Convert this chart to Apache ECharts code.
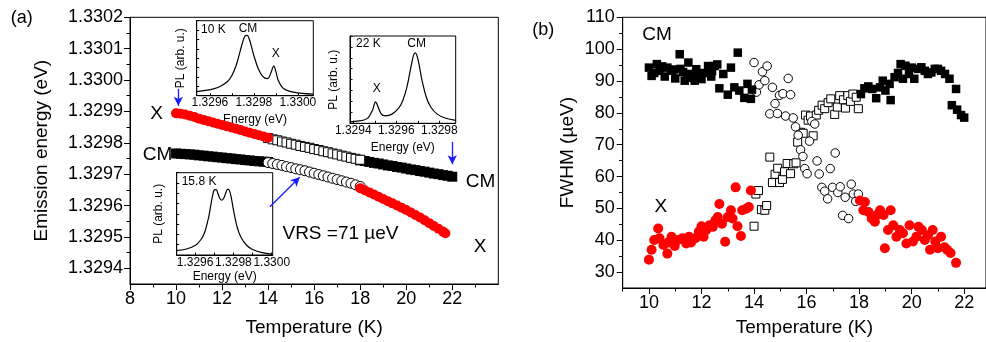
<!DOCTYPE html>
<html>
<head>
<meta charset="utf-8">
<script src="https://cdn.jsdelivr.net/npm/echarts@6/dist/echarts.min.js"></script>
<style>
  html, body { margin: 0; padding: 0; background: #fff; }
  #chart { width: 986px; height: 342px; }
</style>
</head>
<body>
<div id="chart"></div>
<script>
// ---- panel (a): emission energy (eV) vs temperature (K) ----
const tA1 = [10.0, 10.2, 10.4, 10.6, 10.8, 11.0, 11.2, 11.4, 11.6, 11.8, 12.0, 12.2, 12.4, 12.6, 12.8, 13.0, 13.2, 13.4, 13.6, 13.8, 14.0];
const tA2 = [14.0, 14.2, 14.4, 14.6, 14.8, 15.0, 15.2, 15.4, 15.6, 15.8, 16.0, 16.2, 16.4, 16.6, 16.8, 17.0, 17.2, 17.4, 17.6, 17.8, 18.0];
const tA3 = [18.0, 18.2, 18.4, 18.6, 18.8, 19.0, 19.2, 19.4, 19.6, 19.8, 20.0, 20.2, 20.4, 20.6, 20.8, 21.0, 21.2, 21.4, 21.6, 21.8, 22.0];
const tA4 = [18.0, 18.2, 18.4, 18.6, 18.8, 19.0, 19.2, 19.4, 19.6, 19.8, 20.0, 20.2, 20.4, 20.6, 20.8, 21.0, 21.2, 21.4, 21.6, 21.7];

const eXUp = [1.329894, 1.329893, 1.329890, 1.329886, 1.329882, 1.329877, 1.329873, 1.329869, 1.329865, 1.329861, 1.329857, 1.329853, 1.329849, 1.329845, 1.329841, 1.329836, 1.329832, 1.329828, 1.329824, 1.329820, 1.329816];
const eCmLo = [1.329766, 1.329765, 1.329764, 1.329763, 1.329762, 1.329760, 1.329759, 1.329757, 1.329756, 1.329754, 1.329753, 1.329751, 1.329750, 1.329748, 1.329747, 1.329745, 1.329744, 1.329742, 1.329741, 1.329740, 1.329739];
const eSqUp = [1.329815, 1.329811, 1.329808, 1.329804, 1.329801, 1.329797, 1.329794, 1.329790, 1.329787, 1.329784, 1.329780, 1.329777, 1.329773, 1.329770, 1.329766, 1.329763, 1.329759, 1.329756, 1.329752, 1.329749, 1.329746];
const eCiLo = [1.329737, 1.329734, 1.329731, 1.329728, 1.329724, 1.329721, 1.329717, 1.329714, 1.329711, 1.329707, 1.329703, 1.329699, 1.329695, 1.329691, 1.329687, 1.329683, 1.329679, 1.329675, 1.329671, 1.329666, 1.329661];
const eCmUp = [1.329744, 1.329742, 1.329739, 1.329736, 1.329734, 1.329731, 1.329728, 1.329726, 1.329723, 1.329721, 1.329718, 1.329715, 1.329713, 1.329710, 1.329708, 1.329705, 1.329702, 1.329700, 1.329697, 1.329695, 1.329692];
const eXLo = [1.329655, 1.329649, 1.329642, 1.329635, 1.329628, 1.329621, 1.329614, 1.329607, 1.329600, 1.329593, 1.329586, 1.329578, 1.329570, 1.329562, 1.329553, 1.329544, 1.329535, 1.329526, 1.329517, 1.329512];

const aTempLabels = [8, 10, 12, 14, 16, 18, 20, 22];
const aTempMinor = [9, 11, 13, 15, 17, 19, 21, 23];
const aEnergyLabels = [1.3294, 1.3295, 1.3296, 1.3297, 1.3298, 1.3299, 1.3300, 1.3301, 1.3302];
const aEnergyMinor = [1.32945, 1.32955, 1.32965, 1.32975, 1.32985, 1.32995, 1.33005, 1.33015];

// blue arrows [from, to] in (T, E)
const arrowsA = [
  [[10.1, 1.329972], [10.1, 1.329918]],
  [[22.0, 1.329803], [22.0, 1.329732]],
  [[14.08, 1.329596], [15.37, 1.329690]]
];

// ---- insets: PL spectra ----
const in10E = [1.32954, 1.32958, 1.32962, 1.32965, 1.32968, 1.32970, 1.32972, 1.32974, 1.32975, 1.32976, 1.32977, 1.32978, 1.32979, 1.32980, 1.32982, 1.32984, 1.32986, 1.32987, 1.32988, 1.32989, 1.32990, 1.32991, 1.32993, 1.32995, 1.32998, 1.33002, 1.33007];
const in10I = [5.5, 7, 9.5, 13, 19, 27, 41, 62, 72.5, 79.7, 80.5, 74.5, 64.4, 53.3, 35.9, 25.8, 22.7, 25.3, 32.6, 39.9, 32.1, 20.9, 10.8, 7.1, 4.7, 3.1, 2.1];
const in22E = [1.329385, 1.32942, 1.32945, 1.32947, 1.32949, 1.329495, 1.329503, 1.32951, 1.32953, 1.32955, 1.32958, 1.32961, 1.32963, 1.32965, 1.32967, 1.32968, 1.329688, 1.32970, 1.32972, 1.32974, 1.32976, 1.32979, 1.32983, 1.329876];
const in22I = [1.7, 2.5, 3.8, 6.5, 15.2, 19.4, 24.5, 22.2, 10.7, 8.5, 10.5, 17.0, 25.9, 42.1, 66.9, 77.8, 80.7, 74.1, 48.7, 29.6, 18.7, 10.5, 5.8, 3.4];
const in158E = [1.32950, 1.32955, 1.32960, 1.32963, 1.32965, 1.32967, 1.32968, 1.32969, 1.32970, 1.32971, 1.32972, 1.32973, 1.32974, 1.32975, 1.32976, 1.32977, 1.32978, 1.32979, 1.32980, 1.32982, 1.32984, 1.32987, 1.32990, 1.32995, 1.33000];
const in158I = [5.3, 7, 11.5, 18.5, 27.7, 45.2, 57.7, 70.6, 79.0, 79.4, 74.0, 68.4, 66.6, 69.3, 75.2, 80.0, 77.9, 68.2, 55.1, 33.4, 21.2, 11.5, 6.7, 2.8, 1.0];
const in10Labels = [1.3296, 1.3298, 1.3300];
const in22Labels = [1.3294, 1.3296, 1.3298];
const in158Labels = [1.3296, 1.3298, 1.3300];

// ---- panel (b): FWHM (µeV) vs temperature (K) ----
const bCM = [
  [10.0, 94.2], [10.1, 91.6], [10.2, 92.5], [10.3, 95.3], [10.4, 93.2], [10.5, 94.6], [10.6, 91.4], [10.7, 94.2],
  [10.85, 93.2], [10.95, 93.6], [11.0, 90.8], [11.17, 98.4], [11.2, 93.8], [11.3, 92.8], [11.36, 90.1], [11.45, 91.0],
  [11.5, 95.8], [11.6, 92.2], [11.74, 90.1], [11.8, 93.7], [11.9, 91.6], [12.0, 90.6], [12.1, 92.5], [12.25, 94.7],
  [12.37, 91.4], [12.4, 93.1], [12.5, 94.7], [12.6, 95.2], [12.68, 87.7], [12.83, 92.2], [13.0, 85.7], [13.12, 94.2],
  [13.25, 88.0], [13.38, 98.9], [13.44, 87.0], [13.63, 84.7], [13.75, 89.1], [13.88, 84.4], [13.92, 87.3],
  [18.07, 85.9], [18.2, 87.7], [18.35, 88.3], [18.5, 87.5], [18.65, 84.6], [18.8, 88.0], [18.9, 90.1], [19.0, 87.0],
  [19.16, 89.1], [19.2, 84.0], [19.35, 91.2], [19.48, 92.5], [19.58, 95.3], [19.67, 90.7], [19.76, 94.8], [19.9, 92.2],
  [20.0, 94.2], [20.1, 90.7], [20.25, 93.8], [20.37, 94.3], [20.5, 93.2], [20.62, 92.2], [20.75, 92.7], [20.88, 93.8],
  [21.0, 93.8], [21.12, 93.2], [21.27, 92.2], [21.44, 90.7], [21.53, 82.4], [21.69, 87.5], [21.73, 81.0], [21.88, 79.3], [22.0, 78.5]
];
const bX = [
  [10.0, 33.9], [10.1, 37.0], [10.2, 40.1], [10.35, 43.7], [10.4, 40.6], [10.55, 38.5], [10.7, 35.8], [10.73, 39.3],
  [10.86, 41.1], [10.98, 38.2], [11.1, 40.1], [11.27, 40.6], [11.42, 39.0], [11.52, 41.1], [11.6, 39.3], [11.77, 40.6],
  [11.9, 42.7], [12.0, 44.4], [12.08, 41.1], [12.18, 43.2], [12.3, 44.7], [12.43, 44.2], [12.53, 46.3], [12.62, 47.3],
  [12.68, 51.4], [12.78, 45.2], [12.9, 39.5], [13.0, 47.3], [13.12, 49.4], [13.18, 46.8], [13.3, 56.6], [13.37, 44.4],
  [13.5, 41.3], [13.55, 49.4], [13.7, 49.9], [13.8, 50.4], [13.88, 55.6],
  [18.03, 52.5], [18.16, 49.4], [18.22, 52.0], [18.35, 48.9], [18.48, 46.8], [18.6, 45.8], [18.67, 47.9], [18.8, 49.4],
  [18.93, 47.9], [18.98, 37.5], [19.1, 43.2], [19.2, 49.4], [19.3, 44.7], [19.42, 41.1], [19.55, 43.2], [19.67, 42.2],
  [19.8, 39.0], [19.92, 44.7], [20.05, 39.6], [20.18, 41.1], [20.26, 44.2], [20.39, 43.2], [20.5, 40.1], [20.62, 41.6],
  [20.7, 37.0], [20.8, 43.2], [20.9, 39.6], [21.0, 37.5], [21.12, 41.1], [21.25, 37.8], [21.35, 37.0], [21.48, 36.0], [21.69, 32.9]
];
const bOpenSq = [
  [14.0, 44.4], [14.07, 54.5], [14.17, 55.6], [14.28, 49.6], [14.41, 49.4], [14.48, 50.9], [14.6, 66.1], [14.7, 58.1],
  [14.8, 60.7], [14.9, 62.6], [14.97, 58.1], [15.08, 59.1], [15.16, 61.5], [15.26, 64.1], [15.39, 60.9], [15.51, 64.0],
  [15.6, 64.3], [15.66, 70.8], [15.77, 73.9], [15.87, 73.6], [15.96, 79.3], [16.06, 77.7], [16.15, 79.0], [16.25, 72.8],
  [16.37, 79.3], [16.46, 80.8], [16.59, 82.4], [16.69, 81.3], [16.82, 83.2], [16.92, 84.4], [17.07, 79.5], [17.17, 81.8],
  [17.26, 85.4], [17.4, 84.1], [17.48, 81.5], [17.57, 85.4], [17.67, 83.6], [17.76, 85.9], [17.89, 84.9], [17.97, 81.3]
];
const bOpenCi = [
  [14.0, 95.8], [14.09, 86.5], [14.19, 88.8], [14.32, 92.9], [14.41, 90.1], [14.5, 94.7], [14.6, 79.7], [14.7, 88.0],
  [14.8, 82.9], [14.89, 79.8], [14.97, 85.5], [15.1, 86.0], [15.2, 79.0], [15.3, 90.8], [15.39, 85.7], [15.49, 78.4],
  [15.58, 75.6], [15.68, 73.0], [15.77, 68.4], [15.86, 66.3], [15.93, 62.5], [16.02, 60.9], [16.11, 71.1], [16.2, 77.3],
  [16.31, 76.5], [16.4, 64.9], [16.48, 60.8], [16.58, 56.6], [16.69, 55.4], [16.8, 53.0], [16.9, 62.5], [16.99, 56.6],
  [17.09, 67.4], [17.19, 55.0], [17.28, 56.8], [17.37, 47.8], [17.47, 53.5], [17.6, 46.8], [17.7, 57.6], [17.78, 54.5],
  [17.87, 52.2], [17.97, 54.5]
];
const bTempLabels = [10, 12, 14, 16, 18, 20, 22];
const bTempMinor = [9, 11, 13, 15, 17, 19, 21];
const bFwhmLabels = [30, 40, 50, 60, 70, 80, 90, 100, 110];
const bFwhmMinor = [35, 45, 55, 65, 75, 85, 95, 105];

const FONT = "'Liberation Sans', Arial, Helvetica, sans-serif";
const zip = (xs, ys) => xs.map((x, i) => [x, ys[i]]);

function axis(o) {
  return {
    type: 'value', gridIndex: o.grid, min: o.min, max: o.max, position: o.pos,
    axisLine: { show: o.line !== false, onZero: false, lineStyle: { color: '#000', width: 1 } },
    axisTick: { show: true, inside: !!o.inside, length: o.len, customValues: o.ticks, lineStyle: { color: '#000', width: 1 } },
    axisLabel: o.labels ? {
      show: true, customValues: o.labels, formatter: o.fmt, fontSize: o.fs, color: '#000',
      fontFamily: FONT, margin: o.margin, hideOverlap: false
    } : { show: false },
    splitLine: { show: false },
    name: o.name || '', nameLocation: 'middle', nameGap: o.nameGap,
    nameTextStyle: { fontSize: o.nfs, color: '#000', fontFamily: FONT }
  };
}

const fmt4 = (v) => v.toFixed(4);
const fmt0 = (v) => String(Math.round(v));

const chart = echarts.init(document.getElementById('chart'), null, { renderer: 'canvas' });

const grids = [
  { left: 130, top: 17.3, width: 368.3, height: 270.7, show: true, borderColor: '#000', borderWidth: 1 },
  { left: 622.7, top: 17.3, width: 366, height: 275, show: true, borderColor: '#000', borderWidth: 1 },
  { left: 196.7, top: 20.7, width: 116.6, height: 75, show: true, borderColor: '#000', borderWidth: 1, backgroundColor: '#fff' },
  { left: 350, top: 36, width: 105.7, height: 87.3, show: true, borderColor: '#000', borderWidth: 1, backgroundColor: '#fff' },
  { left: 176.7, top: 172.7, width: 96, height: 82.3, show: true, borderColor: '#000', borderWidth: 1, backgroundColor: '#fff' }
];

const xAxes = [
  axis({ grid: 0, min: 8, max: 24, pos: 'bottom', ticks: aTempLabels, len: 6, labels: aTempLabels, fmt: fmt0, fs: 18, margin: 6,
    name: 'Temperature (K)', nameGap: 34, nfs: 19 }),
  axis({ grid: 0, min: 8, max: 24, pos: 'bottom', line: false, ticks: aTempMinor, len: 3.5 }),
  axis({ grid: 1, min: 9, max: 22.83, pos: 'bottom', ticks: bTempLabels, len: 6, labels: bTempLabels, fmt: fmt0, fs: 18, margin: 6,
    name: 'Temperature (K)', nameGap: 30, nfs: 19 }),
  axis({ grid: 1, min: 9, max: 22.83, pos: 'bottom', line: false, ticks: bTempMinor, len: 3.5 }),
  axis({ grid: 2, min: 1.32954, max: 1.33007, pos: 'bottom', inside: true, ticks: [1.3296, 1.3297, 1.3298, 1.3299, 1.3300], len: 2.5,
    labels: in10Labels, fmt: fmt4, fs: 12, margin: 1, name: 'Energy (eV)', nameGap: 18, nfs: 12 }),
  axis({ grid: 3, min: 1.329385, max: 1.329876, pos: 'bottom', inside: true, ticks: [1.3294, 1.3295, 1.3296, 1.3297, 1.3298], len: 2.5,
    labels: in22Labels, fmt: fmt4, fs: 12, margin: 1.5, name: 'Energy (eV)', nameGap: 18, nfs: 12 }),
  axis({ grid: 4, min: 1.329504, max: 1.330005, pos: 'bottom', inside: true, ticks: [1.3296, 1.3297, 1.3298, 1.3299, 1.3300], len: 2.5,
    labels: in158Labels, fmt: fmt4, fs: 12, margin: 1.5, name: 'Energy (eV)', nameGap: 15.5, nfs: 12 })
];

const inTicks = [0, 12.5, 25, 37.5, 50, 62.5, 75, 87.5, 100];
const yAxes = [
  axis({ grid: 0, min: 1.32935, max: 1.3302, pos: 'left', ticks: aEnergyLabels, len: 6, labels: aEnergyLabels, fmt: fmt4, fs: 18, margin: 7,
    name: 'Emission energy (eV)', nameGap: 79, nfs: 19 }),
  axis({ grid: 0, min: 1.32935, max: 1.3302, pos: 'left', line: false, ticks: aEnergyMinor, len: 3.5 }),
  axis({ grid: 1, min: 25, max: 110, pos: 'left', ticks: bFwhmLabels, len: 6, labels: bFwhmLabels, fmt: fmt0, fs: 18, margin: 8,
    name: 'FWHM (µeV)', nameGap: 45, nfs: 19 }),
  axis({ grid: 1, min: 25, max: 110, pos: 'left', line: false, ticks: bFwhmMinor, len: 3.5 }),
  axis({ grid: 2, min: 0, max: 100, pos: 'left', inside: true, ticks: inTicks, len: 2.5, name: 'PL (arb. u.)', nameGap: 10, nfs: 12 }),
  axis({ grid: 3, min: 0, max: 100, pos: 'left', inside: true, ticks: inTicks, len: 2.5, name: 'PL (arb. u.)', nameGap: 10, nfs: 12 }),
  axis({ grid: 4, min: 0, max: 100, pos: 'left', inside: true, ticks: inTicks, len: 2.5, name: 'PL (arb. u.)', nameGap: 12, nfs: 12 })
];

const RED = '#f00';
const filled = (color) => ({ color: color, opacity: 1 });
const hollow = { color: '#fff', borderColor: '#000', borderWidth: 1, opacity: 1 };

function scatter(xi, data, symbol, size, style, z) {
  return { type: 'scatter', xAxisIndex: xi, yAxisIndex: xi, data: data, symbol: symbol, symbolSize: size,
    itemStyle: style, z: z || 2, silent: true };
}
function spectrum(idx, es, is) {
  return { type: 'line', xAxisIndex: idx, yAxisIndex: idx, data: zip(es, is), showSymbol: false, smooth: 0.35,
    lineStyle: { color: '#000', width: 1.2 }, silent: true, z: 5 };
}

const series = [
  scatter(0, zip(tA1, eCmLo), 'rect', 10, filled('#000')),
  scatter(0, zip(tA2, eCiLo), 'circle', 10, hollow),
  scatter(0, zip(tA4, eXLo), 'circle', 10, filled(RED)),
  scatter(0, zip(tA3, eCmUp), 'rect', 10, filled('#000')),
  scatter(0, zip(tA2, eSqUp), 'rect', 9, hollow),
  Object.assign(scatter(0, zip(tA1, eXUp), 'circle', 10, filled(RED)), {
    markLine: {
      silent: true, symbol: ['none', 'arrow'], symbolSize: [7, 9], animation: false,
      lineStyle: { color: '#1a1aff', width: 1.3, type: 'solid' }, label: { show: false },
      data: arrowsA.map((a) => [{ coord: a[0] }, { coord: a[1] }])
    }
  }),
  scatter(2, bOpenSq, 'rect', 8, hollow),
  scatter(2, bOpenCi, 'circle', 8.5, hollow),
  scatter(2, bCM, 'rect', 8.5, filled('#000')),
  scatter(2, bX, 'circle', 10, filled(RED)),
  spectrum(4, in10E, in10I),
  spectrum(5, in22E, in22I),
  spectrum(6, in158E, in158I)
];

function label(text, x, y, size, align) {
  return { type: 'text', x: x, y: y, silent: true, z: 100,
    style: { text: text, fill: '#000', font: size + 'px ' + FONT, align: align || 'center', verticalAlign: 'middle' } };
}

const graphics = [
  label('(a)', 21.7, 18, 18),
  label('X', 156.7, 113.5, 19),
  label('CM', 157.5, 155, 19),
  label('CM', 480.5, 181.7, 19),
  label('X', 480, 246.7, 19),
  label('VRS =71 µeV', 340.5, 234, 19),
  label('10 K', 201, 29.3, 12, 'left'),
  label('CM', 248, 29, 12),
  label('X', 275.7, 53.3, 12),
  label('22 K', 356, 44, 12, 'left'),
  label('CM', 416.7, 44, 12),
  label('X', 376.7, 88.8, 12),
  label('15.8 K', 181.7, 181.5, 12, 'left'),
  label('(b)', 543.3, 30, 18),
  label('CM', 657, 34.7, 19),
  label('X', 660.8, 206.7, 19)
];

chart.setOption({
  animation: false,
  backgroundColor: '#fff',
  textStyle: { fontFamily: FONT },
  grid: grids,
  xAxis: xAxes,
  yAxis: yAxes,
  series: series,
  graphic: graphics
});
</script>
</body>
</html>
